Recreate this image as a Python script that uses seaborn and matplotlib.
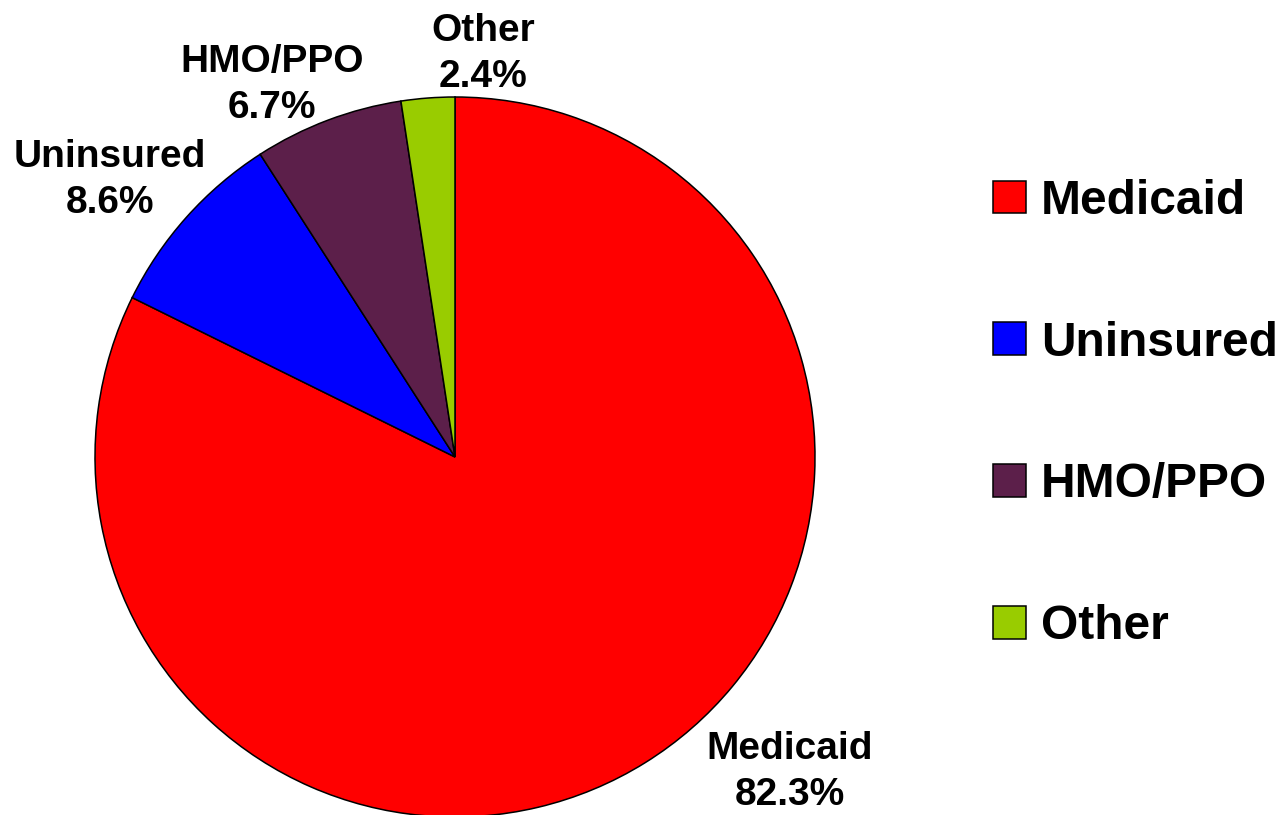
import matplotlib
matplotlib.use("Agg")
import matplotlib.pyplot as plt
import seaborn as sns

sns.set_theme(style="white")
plt.rcParams["font.family"] = ["Liberation Sans", "DejaVu Sans"]
plt.rcParams["font.weight"] = "bold"
plt.rcParams["text.color"] = "black"

# data
categories = ["Medicaid", "Uninsured", "HMO/PPO", "Other"]
shares = [82.3, 8.6, 6.7, 2.4]
colors = ["#ff0000", "#0000ff", "#5c1f4a", "#99cc00"]

# label anchor points, in pie-radius units from the centre
label_pos = [(0.93, -0.875), (-0.958, 0.769), (-0.508, 1.033), (0.078, 1.119)]

fig = plt.figure(figsize=(12.77, 8.15), dpi=100)
cx, cy, r = 455, 457, 360
W, H = 1277, 815
ax = fig.add_axes([(cx - r) / W, (H - cy - r) / H, 2 * r / W, 2 * r / H])

wedges, _ = ax.pie(shares, colors=colors, startangle=90, counterclock=False,
                   radius=1, wedgeprops=dict(edgecolor="black", linewidth=1.1))
ax.set_xlim(-1, 1)
ax.set_ylim(-1, 1)
ax.set_aspect("equal")
ax.axis("off")

for cat, val, (lx, ly) in zip(categories, shares, label_pos):
    ax.text(lx, ly, f"{cat}\n{val:.1f}%", ha="center", va="center", color="black",
            fontsize=28, fontweight="bold", linespacing=1.35, clip_on=False)

leg = fig.legend(wedges, categories, loc="center left", bbox_to_anchor=(993 / W, 1 - 414 / H),
                 frameon=False, handlelength=0.68, handleheight=0.68,
                 handletextpad=0.32, labelspacing=2.02, borderpad=0, borderaxespad=0,
                 prop=dict(weight="bold", size=34.5))
for t in leg.get_texts():
    t.set_color("black")

fig.savefig("out.png", dpi=100, facecolor="white")
